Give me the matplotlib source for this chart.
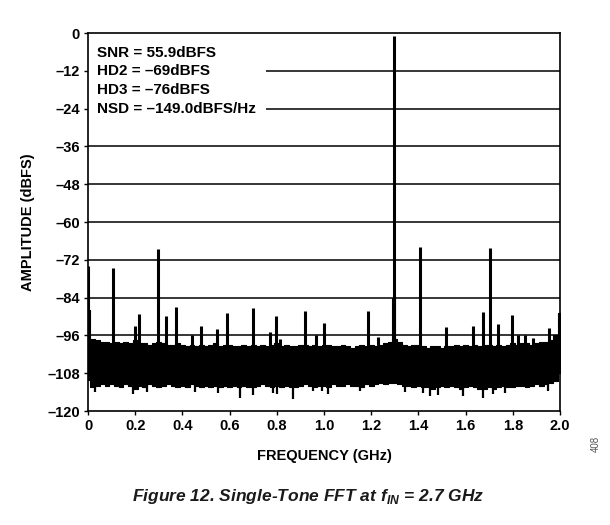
import numpy as np
import matplotlib
matplotlib.use("Agg")
import matplotlib.pyplot as plt
from matplotlib.patches import Rectangle
from matplotlib import font_manager

plt.rcParams["font.family"] = ["Liberation Sans", "DejaVu Sans"]
have = {f.name for f in font_manager.fontManager.ttflist}
cap_font = "Liberation Sans Narrow" if "Liberation Sans Narrow" in have else "Liberation Sans"
plt.rcParams["mathtext.fontset"] = "custom"
plt.rcParams["mathtext.bf"] = cap_font + ":bold:italic"

# noise floor envelope, read every 0.02 GHz
grid_ghz = np.round(np.arange(0, 2.0001, 0.02), 2)
noise_top = [-88, -97, -97.5, -98, -98, -98.5, -98, -98.5, -98, -98.5,
             -97.5, -98.5, -98.5, -99, -98.5, -98, -98.5, -99, -99, -98.5,
             -99, -99.5, -99, -99.5, -99, -99.5, -99, -98.5, -99.5, -99,
             -99, -99.5, -99.5, -99, -99.5, -99, -99.5, -99, -99.5, -99,
             -98.5, -99.5, -99, -99.5, -99.5, -99, -99, -99.5, -99, -99.5,
             -99, -99, -99.5, -99.5, -99, -99.5, -100, -99.5, -99, -99.5,
             -99, -99.5, -99, -98.5, -98, -97, -98, -99, -99.5, -99,
             -99, -99.5, -100, -99.5, -99.5, -100, -99.5, -99.5, -99, -99.5,
             -99, -99.5, -99, -99.5, -99, -99, -99.5, -99, -99.5, -99,
             -98.5, -99, -98.5, -98.5, -99, -98.5, -98, -98, -97.5, -96,
             -89]
noise_bot = [-110, -112.5, -112, -111.5, -112, -111.5, -112, -112.5, -111.5, -112,
             -113, -112, -112.5, -111.5, -112, -112.5, -112, -111.5, -112, -112.5,
             -112, -112.5, -111.5, -112, -112.5, -112, -112.5, -112, -112.5, -112,
             -112.5, -112, -112.5, -112, -112.5, -112.5, -112, -111.5, -112, -112.5,
             -112, -112.5, -112, -112.5, -112.5, -112, -111.5, -112, -112.5, -112,
             -112, -112.5, -111.5, -112, -112, -111.5, -112, -112, -112.5, -111.5,
             -112, -111.5, -111, -111.5, -111, -111, -111.5, -112, -112, -112.5,
             -112, -112.5, -112.5, -113, -112.5, -112, -112.5, -112, -112.5, -113,
             -112.5, -112, -112.5, -113, -113, -112.5, -113, -112.5, -112, -112.5,
             -112.5, -112, -112, -112.5, -112, -111.5, -112, -111.5, -111, -110.5,
             -108]

# spurs above the floor
spur_ghz = [0.0, 0.107, 0.2, 0.217, 0.295, 0.33, 0.373, 0.439, 0.479, 0.545,
            0.589, 0.70, 0.771, 0.795, 0.814, 0.921, 0.965, 1.0, 1.185, 1.23,
            1.297, 1.405, 1.516, 1.63, 1.674, 1.702, 1.737, 1.795, 1.823, 1.85,
            1.887, 1.952, 2.0]
spur_db = [-74, -74.5, -93, -89.3, -68.6, -89.7, -87.1, -96, -93, -94,
           -89, -87.2, -95, -89.8, -97, -88.4, -96, -92, -88.3, -96.6,
           -1, -67.8, -93.2, -93, -88.7, -68.4, -92.4, -89.5, -95.9, -96,
           -96.7, -93.5, -89]

# single-bin dips below the floor
dip_ghz = [0.03, 0.192, 0.249, 0.453, 0.552, 0.646, 0.70, 0.785, 0.80, 0.87,
           0.953, 0.99, 1.018, 1.153, 1.343, 1.42, 1.449, 1.485, 1.59, 1.675,
           1.717, 1.767, 1.95]
dip_db = [-113.9, -114.5, -113.9, -113.9, -114.3, -116, -115, -114.3, -114.6, -116.2,
          -113.8, -113.6, -114.5, -113.8, -114, -114.3, -115.2, -115, -115.2, -116,
          -114.6, -114.3, -113.8]

fig = plt.figure(figsize=(6.1, 5.25), dpi=100)
ax = fig.add_axes([0.1443, 0.2171, 0.7738, 0.72])

ax.fill_between(grid_ghz, noise_bot, noise_top, step="mid", color="black",
                lw=0.8, zorder=3)
ax.vlines(spur_ghz, -100, spur_db, color="black", lw=2.2, zorder=3)
ax.vlines([1.294, 1.300], -100, -84, color="black", lw=1.5, zorder=3)
ax.vlines(dip_ghz, -110, dip_db, color="black", lw=1.6, zorder=3)

ax.set_xlim(0, 2.0)
ax.set_ylim(-120, 0)
xt = np.round(np.arange(0, 2.01, 0.2), 1)
ax.set_xticks(xt)
ax.set_xticklabels(["0"] + [f"{v:.1f}" for v in xt[1:]])
yt = np.arange(-120, 1, 12)
ax.set_yticks(yt)
ax.set_yticklabels([str(v).replace("-", "\u2013") for v in yt])
ax.tick_params(labelsize=10.5, length=3, width=1, pad=3)
for lab in ax.get_xticklabels() + ax.get_yticklabels():
    lab.set_fontweight("bold")

for v in yt[1:-1]:
    ax.axhline(v, color="black", lw=1.1, zorder=1)
for s in ax.spines.values():
    s.set_linewidth(1.2)

# white panel behind the results text
ax.add_patch(Rectangle((0.002, -30), 0.752, 27, facecolor="white",
                       edgecolor="none", zorder=2))
notes = ["SNR = 55.9dBFS", "HD2 = \u201369dBFS", "HD3 = \u201376dBFS",
         "NSD = \u2013149.0dBFS/Hz"]
for i, t in enumerate(notes):
    ax.text(0.04, -6.2 - 6.0 * i, t, fontsize=11, fontweight="bold",
            va="center", ha="left", zorder=4)

ax.set_xlabel("FREQUENCY (GHz)", fontsize=10.5, fontweight="bold", labelpad=11)
ax.set_ylabel("AMPLITUDE (dBFS)", fontsize=10.5, fontweight="bold", labelpad=9)

fig.text(0.977, 0.155, "408", rotation=90, fontsize=7, color="#555555",
         ha="center", va="center")
cap_size = 13.5 if cap_font != "Liberation Sans" else 12.5
fig.text(0.505, 0.055, r"Figure 12. Single-Tone FFT at $\mathbf{f}_{\mathbf{IN}}$ = 2.7 GHz",
         fontsize=cap_size, fontweight="bold", style="italic",
         family=[cap_font, "Liberation Sans"],
         color="#1a1a1a", ha="center", va="center")

fig.savefig("out.png", dpi=100)
